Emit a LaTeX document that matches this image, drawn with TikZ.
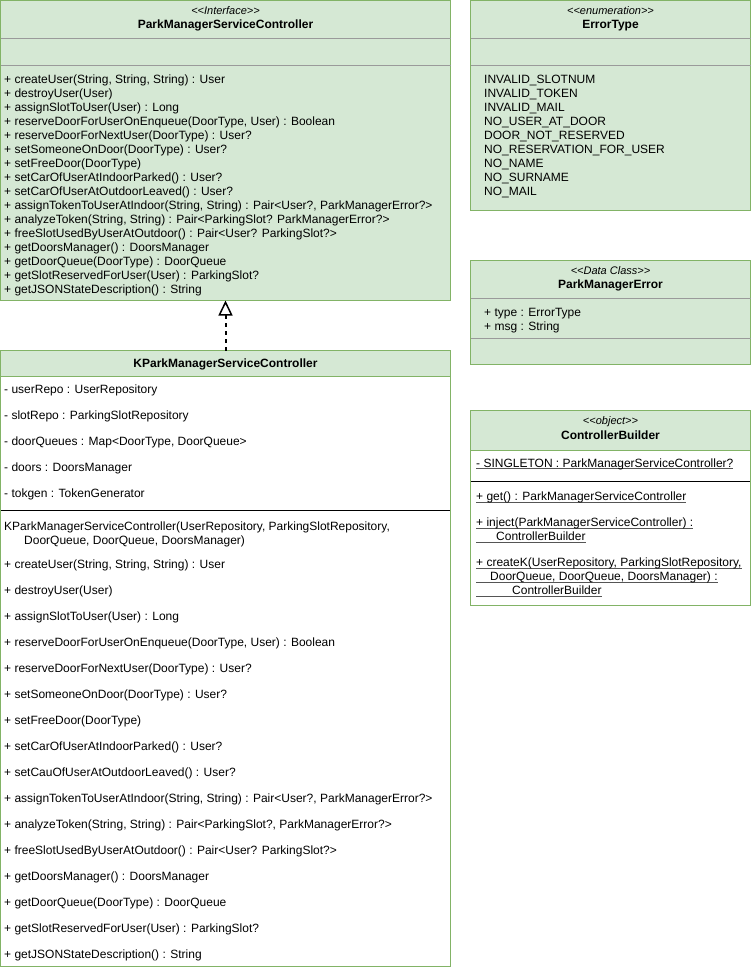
\documentclass[tikz,border=0pt]{standalone}
\usepackage{fontspec}
\setmainfont{Liberation Sans}
\usetikzlibrary{arrows.meta}
\definecolor{gfill}{HTML}{D5E8D4}
\definecolor{gline}{HTML}{82B366}
\definecolor{sepg}{HTML}{9A9A9A}
\definecolor{ulgray}{HTML}{555555}
\newcommand{\lt}{\textless\kern0pt}
\newcommand{\gt}{\textgreater\kern0pt}
\newcommand{\myul}[1]{\leavevmode\setbox0\hbox{#1}\rlap{\color{ulgray}\rule[-2.2pt]{\wd0}{0.8pt}}\box0}
\begin{document}
\begin{tikzpicture}[x=1pt,y=-1pt,
  box/.style={draw=gline, line width=1pt, inner sep=0pt, outer sep=0pt, anchor=north west},
  txt/.style={anchor=base west, inner sep=0pt, font=\fontsize{12}{14}\selectfont},
  ttl/.style={anchor=base, inner sep=0pt, font=\fontsize{12}{14}\selectfont\bfseries},
  ster/.style={anchor=base, inner sep=0pt, font=\fontsize{11}{13}\selectfont\itshape},
  sepline/.style={draw=sepg, line width=1pt},
  blkline/.style={draw=black, line width=1pt},
  hdrline/.style={draw=gline, line width=1pt},
  realize/.style={draw=black, line width=2pt, dash pattern=on 4pt off 4pt,
    -{Triangle[open, length=15pt, width=14pt, line width=1.5pt]}}
]
\useasboundingbox (0,0) rectangle (751,970);
\fill[white] (0,0) rectangle (751,970);

% ---------- Interface ParkManagerServiceController ----------
\node[box, fill=gfill, minimum width=450pt, minimum height=300pt] (iface) at (0.5,0.5) {};
\draw[sepline] (0.5,38.5) -- (450.5,38.5);
\draw[sepline] (0.5,65.5) -- (450.5,65.5);
\node[ster] (ifaceS) at (225.5,14) {\lt\lt Interface\gt\gt};
\node[ttl] (ifaceT) at (225.5,28.5) {ParkManagerServiceController};
\foreach \t [count=\i] in {
  {+ createUser(String, String, String) : User},
  {+ destroyUser(User)},
  {+ assignSlotToUser(User) : Long},
  {+ reserveDoorForUserOnEnqueue(DoorType, User) : Boolean},
  {+ reserveDoorForNextUser(DoorType) : User?},
  {+ setSomeoneOnDoor(DoorType) : User?},
  {+ setFreeDoor(DoorType)},
  {+ setCarOfUserAtIndoorParked() : User?},
  {+ setCarOfUserAtOutdoorLeaved() : User?},
  {+ assignTokenToUserAtIndoor(String, String) : Pair<User?, ParkManagerError?>},
  {+ analyzeToken(String, String) : Pair<ParkingSlot? ParkManagerError?>},
  {+ freeSlotUsedByUserAtOutdoor() : Pair<User? ParkingSlot?>},
  {+ getDoorsManager() : DoorsManager},
  {+ getDoorQueue(DoorType) : DoorQueue},
  {+ getSlotReservedForUser(User) : ParkingSlot?},
  {+ getJSONStateDescription() : String}}
  \node[txt] (im\i) at (4,83.5+14*\i-14) {\t};

% ---------- Enumeration ErrorType ----------
\node[box, fill=gfill, minimum width=280pt, minimum height=210pt] (err) at (470.5,0.5) {};
\draw[sepline] (470.5,38.5) -- (750.5,38.5);
\draw[sepline] (470.5,65.5) -- (750.5,65.5);
\node[ster] (errS) at (610.5,14) {\lt\lt enumeration\gt\gt};
\node[ttl] (errT) at (610.5,28.5) {ErrorType};
\foreach \t [count=\i] in {INVALID\_SLOTNUM, INVALID\_TOKEN, INVALID\_MAIL,
  NO\_USER\_AT\_DOOR, DOOR\_NOT\_RESERVED, NO\_RESERVATION\_FOR\_USER,
  NO\_NAME, NO\_SURNAME, NO\_MAIL}
  \node[txt] (ev\i) at (484,83.5+14*\i-14) {\t};

% ---------- Data class ParkManagerError ----------
\node[box, fill=gfill, minimum width=280pt, minimum height=104pt] (pme) at (470.5,260.5) {};
\draw[sepline] (470.5,298.5) -- (750.5,298.5);
\draw[sepline] (470.5,338.5) -- (750.5,338.5);
\node[ster] (pmeS) at (610.5,274) {\lt\lt Data Class\gt\gt};
\node[ttl] (pmeT) at (610.5,288.5) {ParkManagerError};
\node[txt] (pf1) at (484,316.5) {+ type : ErrorType};
\node[txt] (pf2) at (484,330.5) {+ msg : String};

% ---------- Object ControllerBuilder ----------
\node[box, fill=white, minimum width=280pt, minimum height=195pt] (cb) at (470.5,410.5) {};
\fill[gfill] (470.5,410.5) rectangle (750.5,450.5);
\draw[hdrline] (470.5,450.5) -- (750.5,450.5);
\draw[blkline] (470.5,481.5) -- (750.5,481.5);
\draw[draw=gline, line width=1pt] (cb.north west) rectangle (cb.south east);
\node[ster] (cbS) at (610.5,424.5) {\lt\lt object\gt\gt};
\node[ttl] (cbT) at (610.5,439.5) {ControllerBuilder};
\node[txt] (cf1) at (476,467) {\myul{- SINGLETON : ParkManagerServiceController?}};
\node[txt] (cm1) at (476,500.5) {\myul{+ get() : ParkManagerServiceController}};
\node[txt] (cm2a) at (476,526.5) {\myul{+ inject(ParkManagerServiceController) :}};
\node[txt] (cm2b) at (476,540.5) {\myul{\hspace*{20pt}ControllerBuilder}};
\node[txt] (cm3a) at (476,566.5) {\myul{+ createK(UserRepository, ParkingSlotRepository,}};
\node[txt] (cm3b) at (476,580.5) {\myul{\hspace*{14pt}DoorQueue, DoorQueue, DoorsManager) :}};
\node[txt] (cm3c) at (476,594.5) {\myul{\hspace*{36pt}ControllerBuilder}};

% ---------- Class KParkManagerServiceController ----------
\node[box, fill=white, minimum width=450pt, minimum height=616pt] (kp) at (0.5,350.5) {};
\fill[gfill] (0.5,350.5) rectangle (450.5,376.5);
\draw[hdrline] (0.5,376.5) -- (450.5,376.5);
\draw[blkline] (0.5,510.5) -- (450.5,510.5);
\draw[draw=gline, line width=1pt] (kp.north west) rectangle (kp.south east);
\node[ttl] (kpT) at (225.5,367.5) {KParkManagerServiceController};
\foreach \t [count=\i] in {
  {- userRepo : UserRepository},
  {- slotRepo : ParkingSlotRepository},
  {- doorQueues : Map<DoorType, DoorQueue>},
  {- doors : DoorsManager},
  {- tokgen : TokenGenerator}}
  \node[txt] (kf\i) at (4,393+26*\i-26) {\t};
\node[txt] (kc1) at (4,530.5) {KParkManagerServiceController(UserRepository, ParkingSlotRepository,};
\node[txt] (kc2) at (24,544.5) {DoorQueue, DoorQueue, DoorsManager)};
\foreach \t [count=\i] in {
  {+ createUser(String, String, String) : User},
  {+ destroyUser(User)},
  {+ assignSlotToUser(User) : Long},
  {+ reserveDoorForUserOnEnqueue(DoorType, User) : Boolean},
  {+ reserveDoorForNextUser(DoorType) : User?},
  {+ setSomeoneOnDoor(DoorType) : User?},
  {+ setFreeDoor(DoorType)},
  {+ setCarOfUserAtIndoorParked() : User?},
  {+ setCauOfUserAtOutdoorLeaved() : User?},
  {+ assignTokenToUserAtIndoor(String, String) : Pair<User?, ParkManagerError?>},
  {+ analyzeToken(String, String) : Pair<ParkingSlot?, ParkManagerError?>},
  {+ freeSlotUsedByUserAtOutdoor() : Pair<User? ParkingSlot?>},
  {+ getDoorsManager() : DoorsManager},
  {+ getDoorQueue(DoorType) : DoorQueue},
  {+ getSlotReservedForUser(User) : ParkingSlot?},
  {+ getJSONStateDescription() : String}}
  \node[txt] (km\i) at (4,568+26*\i-26) {\t};

% ---------- Realization ----------
\draw[realize] (kp.north) -- (iface.south);
\end{tikzpicture}
\end{document}
